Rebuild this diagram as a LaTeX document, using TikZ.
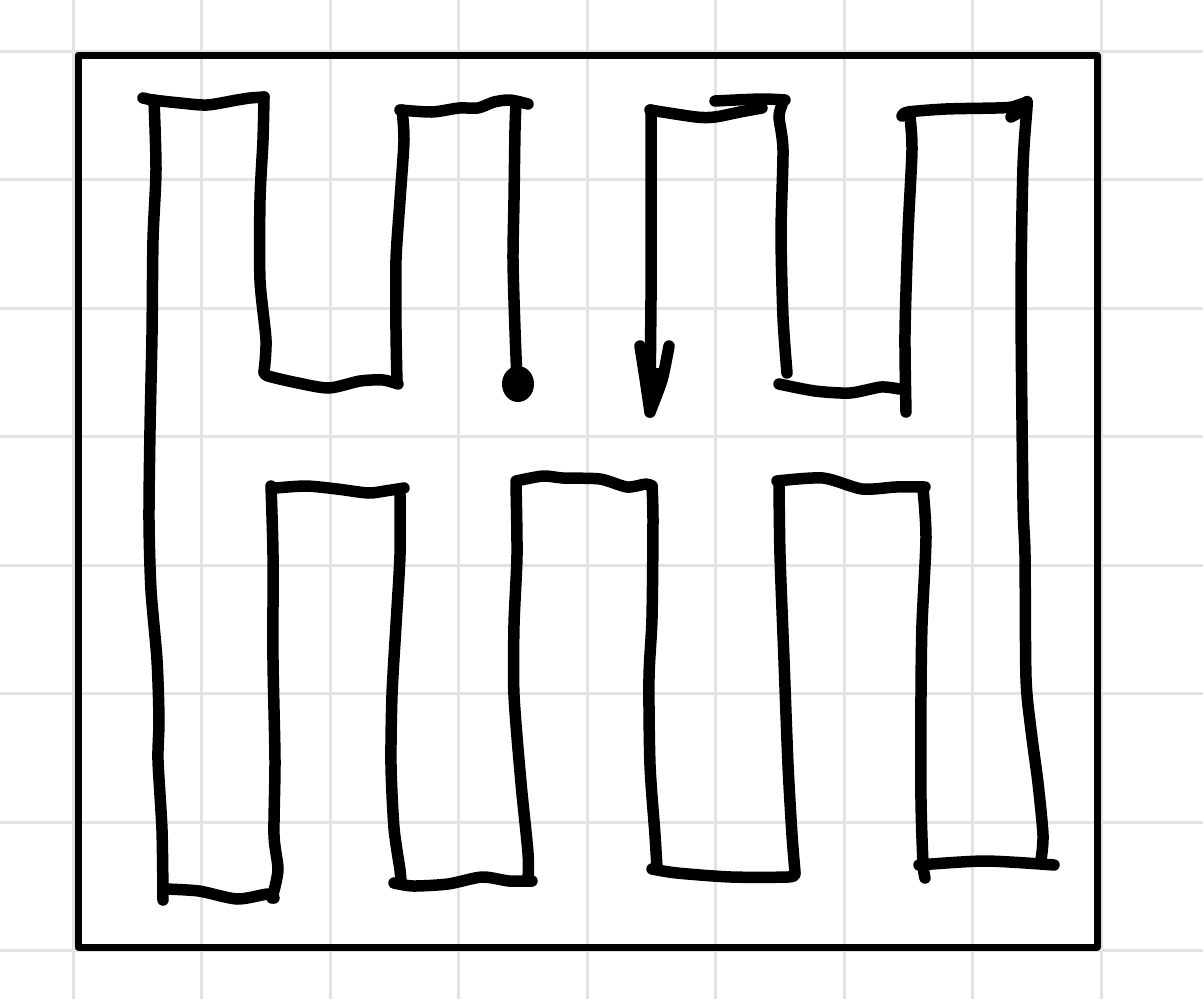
\documentclass[tikz,border=0pt]{standalone}
\begin{document}
\begin{tikzpicture}[x=1pt,y=-1pt,
 gridline/.style={draw=black!11, line width=3pt},
 frame/.style={draw=black, line width=7pt, line join=round},
 stroke/.style={draw=black, line width=11.5pt, line cap=round, line join=round},
 sm/.style={smooth, tension=0.45}
]
\fill[white] (0,0) rectangle (1203,999);
\useasboundingbox (0,0) rectangle (1203,999);
\foreach \k in {0,...,8} { \draw[gridline] (73+128.5*\k,0) -- (73+128.5*\k,999); }
\foreach \k in {0,...,7} { \draw[gridline] (0,51+128.5*\k) -- (1203,51+128.5*\k); }
\draw[frame] (78,55) rectangle (1097,947);
% start dot
\fill (518,384) ellipse [x radius=16pt, y radius=18pt];
\draw[stroke] plot[sm] coordinates {(517,380) (515,330) (513,260) (514,200) (515,130) (516,103)};
\draw[stroke] plot[sm] coordinates {(528,104) (510,100) (494,102) (478,108) (459,108) (432,112) (400,110)};
\draw[stroke] plot[sm] coordinates {(402,110) (404,140) (400,200) (396,260) (396,330) (397,383)};
\draw[stroke] plot[sm] coordinates {(398,384) (383,380) (360,381) (329,388) (298,383) (268,376) (264,372)};
\draw[stroke] plot[sm] coordinates {(264,372) (266,340) (260,280) (260,200) (263,140) (264,97)};
\draw[stroke] plot[sm] coordinates {(264,97) (250,98) (237,100) (207,105) (180,103) (153,100) (143,98)};
\draw[stroke] plot[sm] coordinates {(154,100) (156,170) (153,240) (152,335) (150,430) (149,520) (151,590) (157,660) (159,720) (158,760) (162,830) (163,900)};
\draw[stroke] plot[sm] coordinates {(165,889) (199,891) (237,899) (268,894) (274,898)};
\draw[stroke] plot[sm] coordinates {(272,898) (278,870) (274,835) (275,760) (273,660) (273,555) (271,486)};
\draw[stroke] plot[sm] coordinates {(276,488) (306,486) (337,489) (368,493) (385,491) (404,488)};
\draw[stroke] plot[sm] coordinates {(400,495) (400,555) (396,625) (392,695) (391,765) (394,828) (400,870) (401,883)};
\draw[stroke] plot[sm] coordinates {(394,883) (413,886) (448,884) (482,877) (509,881) (532,881)};
\draw[stroke] plot[sm] coordinates {(528,880) (528,853) (521,783) (514,695) (514,625) (517,555) (516,485)};
\draw[stroke] plot[sm] coordinates {(516,481) (543,476) (563,478) (600,479) (627,487) (646,484) (652,486)};
\draw[stroke] plot[sm] coordinates {(652,486) (653,520) (652,618) (649,678) (650,765) (655,835) (657,868)};
\draw[stroke] plot[sm] coordinates {(652,869) (677,873) (731,877) (788,877) (795,874)};
\draw[stroke] plot[sm] coordinates {(795,872) (792,835) (788,765) (784,660) (780,555) (779,483)};
\draw[stroke] plot[sm] coordinates {(777,481) (823,478) (862,489) (896,487) (925,487)};
\draw[stroke] plot[sm] coordinates {(923,489) (926,538) (922,625) (921,695) (921,800) (923,863) (925,878)};
\draw[stroke] plot[sm] coordinates {(919,865) (985,861) (1054,865)};
\draw[stroke] plot[sm] coordinates {(1041,860) (1043,835) (1038,783) (1031,730) (1026,678) (1025,555) (1023,500) (1021,300) (1023,167) (1027,107) (1027,102)};
\draw[stroke] plot[sm] coordinates {(1027,102) (1012,107) (996,108) (946,109) (908,112) (902,116)};
\draw[stroke] (1011,117) -- (1026,109);
\draw[stroke] plot[sm] coordinates {(910,117) (912,150) (908,233) (905,333) (906,412)};
\draw[stroke] plot[sm] coordinates {(899,389) (881,387) (850,393) (815,391) (779,384)};
\draw[stroke] plot[sm] coordinates {(787,373) (783,317) (781,233) (783,150) (779,117) (782,105)};
\draw[stroke] plot[sm] coordinates {(785,100) (761,99) (715,101)};
\draw[stroke] plot[sm] coordinates {(762,108) (740,112) (715,117) (696,117) (650,110)};
\draw[stroke] (651,110) -- (651,300) -- (650,405);
% arrowhead
\draw[stroke] plot[sm] coordinates {(640,346) (645,378) (650,412)};
\draw[stroke] plot[sm] coordinates {(669,346) (662,380) (650,412)};
\fill (643,368) -- (650,412) -- (665,368) -- cycle;
\end{tikzpicture}
\end{document}
